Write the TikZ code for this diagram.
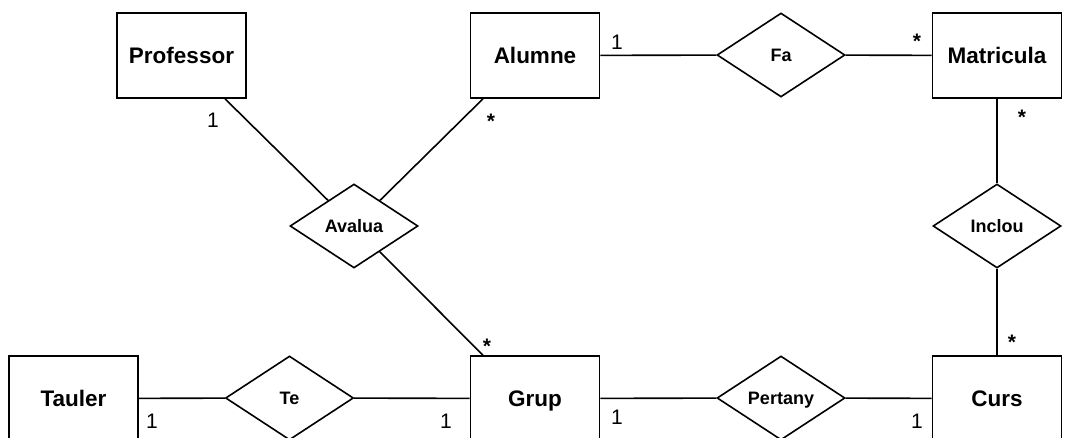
\documentclass[tikz,border=0pt]{standalone}
\usepackage{fontspec}
\setmainfont{Liberation Sans}
\usetikzlibrary{shapes.geometric}
\begin{document}
\begin{tikzpicture}[x=1pt,y=-1pt,
                every path/.append style={black,line width=1.6pt},
                entity/.style={draw,rectangle,minimum width=129pt,minimum height=85pt,inner sep=0pt,
                    font=\fontsize{22.5}{27}\selectfont\bfseries,text height=16pt,text depth=0pt},
                relation/.style={draw,diamond,minimum width=128pt,minimum height=84pt,inner sep=0pt,
                    font=\fontsize{18}{22}\selectfont\bfseries,text height=13pt,text depth=0pt},
                mult/.style={anchor=base,inner sep=0pt,font=\fontsize{21}{25}\selectfont},
                many/.style={mult,font=\fontsize{21}{25}\selectfont\bfseries}
            ]
                \useasboundingbox (0,0) rectangle (1079,438);
                % entitats
                \node[entity] (professor) at (181.5,55.5) {Professor};
                \node[entity] (alumne) at (535,55.5) {Alumne};
                \node[entity] (matricula) at (997,55.5) {Matricula};
                \node[entity] (tauler) at (73.5,398.5) {Tauler};
                \node[entity] (grup) at (535,398.5) {Grup};
                \node[entity] (curs) at (997,398.5) {Curs};
                % relacions
                \node[relation] (fa) at (781,55) {Fa};
                \node[relation] (avalua) at (354,226) {Avalua};
                \node[relation] (inclou) at (997,226) {Inclou};
                \node[relation] (te) at (289.5,398) {Te};
                \node[relation] (pertany) at (781,398) {Pertany};
                % connexions
                \draw (alumne) -- (fa) -- (matricula);
                \draw (matricula) -- (inclou) -- (curs);
                \draw (tauler) -- (te) -- (grup);
                \draw (grup) -- (pertany) -- (curs);
                \draw ([xshift=43.5pt]professor.south) -- (avalua);
                \draw ([xshift=-52pt]alumne.south) -- (avalua);
                \draw (avalua) -- ([xshift=-52pt]grup.north);
                % multiplicitats
                \node[mult] (mprof) at (213,128) {1};
                \node[many] (malumA) at (491,129) {*};
                \node[mult] (malumF) at (617,50) {1};
                \node[many] (mmatF) at (917,49) {*};
                \node[many] (mmatI) at (1022,125) {*};
                \node[many] (mcursI) at (1012,349) {*};
                \node[many] (mgrupA) at (487,353) {*};
                \node[mult] (mtaulT) at (152,428) {1};
                \node[mult] (mgrupT) at (446,428) {1};
                \node[mult] (mgrupP) at (617,424) {1};
                \node[mult] (mcursP) at (917,428) {1};
            \end{tikzpicture}
\end{document}
